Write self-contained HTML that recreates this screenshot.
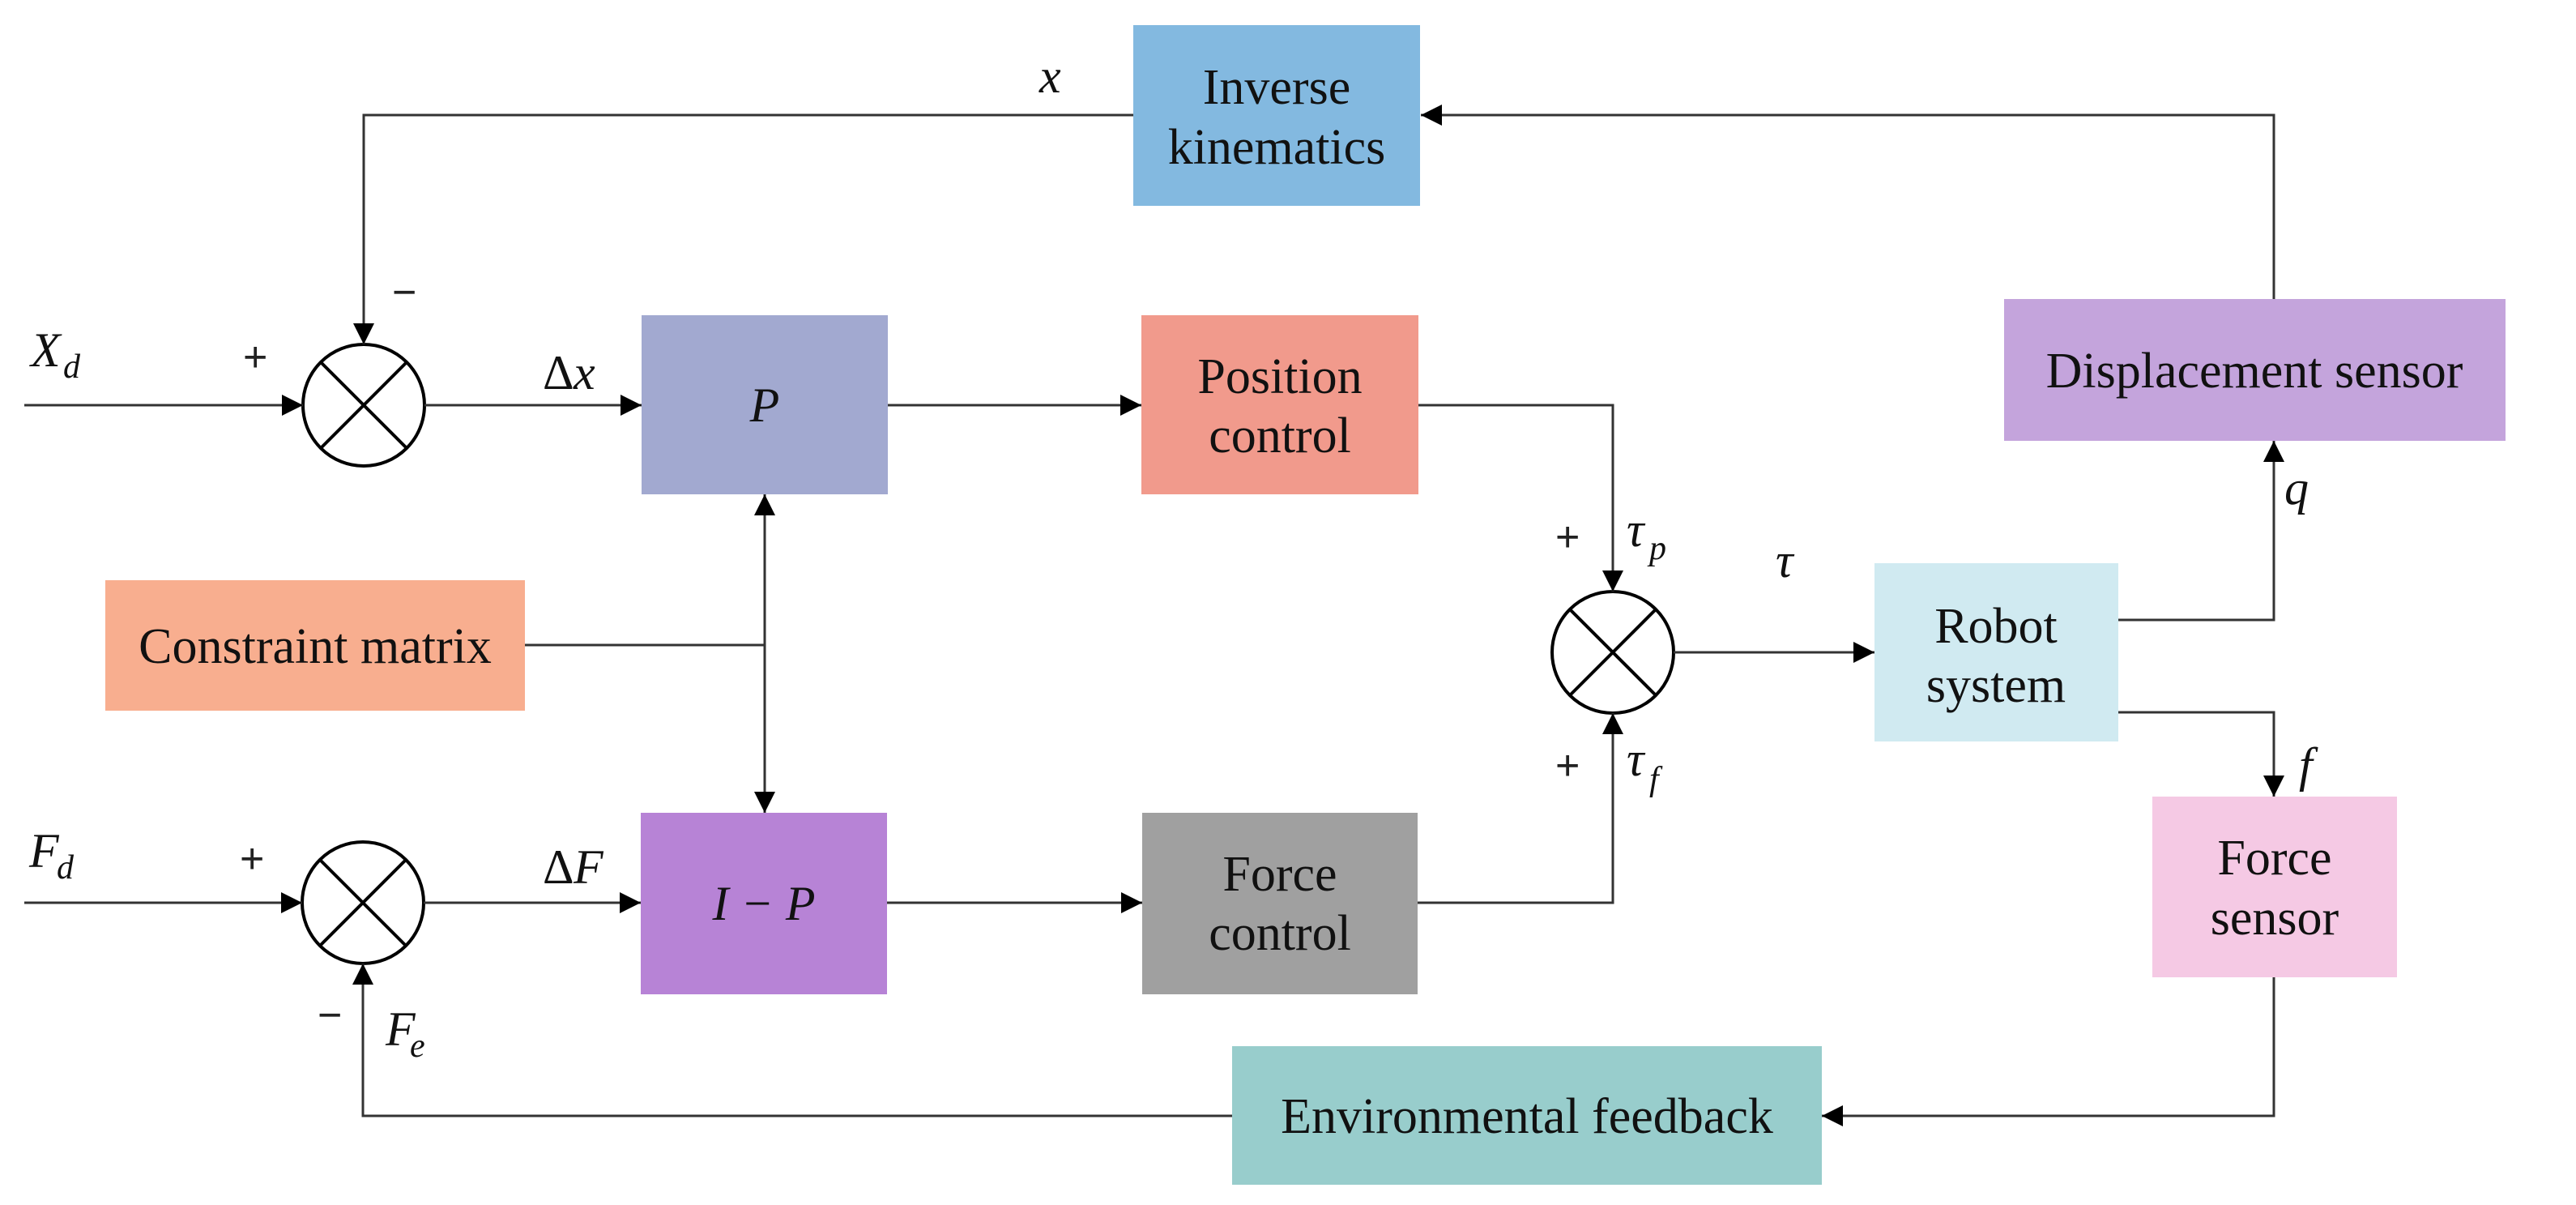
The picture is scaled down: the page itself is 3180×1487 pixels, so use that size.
<!DOCTYPE html>
<html><head><meta charset="utf-8"><style>
html,body{margin:0;padding:0;background:#fff}
svg{display:block}
.b{font-family:"Liberation Serif",serif;font-size:62px;fill:#111;text-anchor:middle}
.m{font-family:"Liberation Serif",serif;font-style:italic;font-size:60px;fill:#111}
.s{font-family:"Liberation Serif",serif;font-style:italic;font-size:42px;fill:#111}
.p{font-family:"Liberation Sans",sans-serif;font-size:52px;fill:#222}
</style></head><body>
<svg width="3180" height="1487" viewBox="0 0 3180 1487" xmlns="http://www.w3.org/2000/svg">
<defs>
<marker id="a" markerWidth="26" markerHeight="26" refX="26" refY="13" orient="auto" markerUnits="userSpaceOnUse">
<path d="M0,0 L26,13 L0,26 Z" fill="#000"/></marker>
</defs>
<rect x="1399" y="31" width="354" height="223" fill="#83b9e0"/>
<rect x="792" y="389" width="304" height="221" fill="#a2a9d0"/>
<rect x="1409" y="389" width="342" height="221" fill="#f19a8c"/>
<rect x="130" y="716" width="518" height="161" fill="#f8ae8f"/>
<rect x="2474" y="369" width="619" height="175" fill="#c4a4dc"/>
<rect x="2314" y="695" width="301" height="220" fill="#d0eaf1"/>
<rect x="791" y="1003" width="304" height="224" fill="#b783d6"/>
<rect x="1410" y="1003" width="340" height="224" fill="#a0a0a0"/>
<rect x="2657" y="983" width="302" height="223" fill="#f5c9e4"/>
<rect x="1521" y="1291" width="728" height="171" fill="#98cdcc"/>
<text class="b" x="1576" y="128">Inverse</text>
<text class="b" x="1576" y="202">kinematics</text>
<text class="m" x="944" y="520" text-anchor="middle">P</text>
<text class="b" x="1580" y="485">Position</text>
<text class="b" x="1580" y="558">control</text>
<text class="b" x="389" y="818">Constraint matrix</text>
<text class="b" x="2783" y="478">Displacement sensor</text>
<text class="b" x="2464" y="793">Robot</text>
<text class="b" x="2464" y="866">system</text>
<text class="m" x="943" y="1135" text-anchor="middle">I − P</text>
<text class="b" x="1580" y="1099">Force</text>
<text class="b" x="1580" y="1172">control</text>
<text class="b" x="2808" y="1079">Force</text>
<text class="b" x="2808" y="1153">sensor</text>
<text class="b" x="1885" y="1398">Environmental feedback</text>
<g fill="none" stroke="#000" stroke-width="4">
<circle cx="449" cy="500" r="75"/>
<line x1="396" y1="447" x2="502" y2="553"/><line x1="502" y1="447" x2="396" y2="553"/>
<circle cx="448" cy="1114" r="75"/>
<line x1="395" y1="1061" x2="501" y2="1167"/><line x1="501" y1="1061" x2="395" y2="1167"/>
<circle cx="1991" cy="805" r="75"/>
<line x1="1938" y1="752" x2="2044" y2="858"/><line x1="2044" y1="752" x2="1938" y2="858"/>
</g>
<g fill="none" stroke="#333" stroke-width="3">
<line x1="30" y1="500" x2="374" y2="500" marker-end="url(#a)"/>
<line x1="524" y1="500" x2="792" y2="500" marker-end="url(#a)"/>
<line x1="1096" y1="500" x2="1409" y2="500" marker-end="url(#a)"/>
<polyline points="1399,142 449,142 449,425" marker-end="url(#a)"/>
<polyline points="2807,369 2807,142 1754,142" marker-end="url(#a)"/>
<polyline points="1751,500 1991,500 1991,730" marker-end="url(#a)"/>
<line x1="2066" y1="805" x2="2314" y2="805" marker-end="url(#a)"/>
<polyline points="2615,765 2807,765 2807,544" marker-end="url(#a)"/>
<polyline points="2615,879 2807,879 2807,983" marker-end="url(#a)"/>
<polyline points="2807,1206 2807,1377 2249,1377" marker-end="url(#a)"/>
<polyline points="1521,1377 448,1377 448,1189" marker-end="url(#a)"/>
<line x1="30" y1="1114" x2="373" y2="1114" marker-end="url(#a)"/>
<line x1="523" y1="1114" x2="791" y2="1114" marker-end="url(#a)"/>
<line x1="1095" y1="1114" x2="1410" y2="1114" marker-end="url(#a)"/>
<polyline points="1750,1114 1991,1114 1991,880" marker-end="url(#a)"/>
<line x1="648" y1="796" x2="944" y2="796"/>
<line x1="944" y1="796" x2="944" y2="610" marker-end="url(#a)"/>
<line x1="944" y1="796" x2="944" y2="1003" marker-end="url(#a)"/>
</g>
<text class="m" x="1283" y="114">x</text>
<text class="m" x="38" y="452">X</text><text class="s" x="78" y="466">d</text>
<text class="p" x="300" y="458">+</text>
<text class="p" x="484" y="378">−</text>
<text class="m" x="670" y="480" style="font-style:normal">Δ</text><text class="m" x="708" y="480">x</text>
<text class="p" x="1920" y="680">+</text>
<text class="m" x="2008" y="674">τ</text><text class="s" x="2036" y="690">p</text>
<text class="m" x="2192" y="712">τ</text>
<text class="p" x="1920" y="962">+</text>
<text class="m" x="2008" y="957">τ</text><text class="s" x="2036" y="975">f</text>
<text class="m" x="2820" y="622">q</text>
<text class="m" x="2838" y="964">f</text>
<text class="m" x="36" y="1070">F</text><text class="s" x="70" y="1084">d</text>
<text class="p" x="296" y="1077">+</text>
<text class="m" x="670" y="1090" style="font-style:normal">Δ</text><text class="m" x="708" y="1090">F</text>
<text class="p" x="392" y="1270">−</text>
<text class="m" x="476" y="1290">F</text><text class="s" x="506" y="1304">e</text>
</svg>
</body></html>
